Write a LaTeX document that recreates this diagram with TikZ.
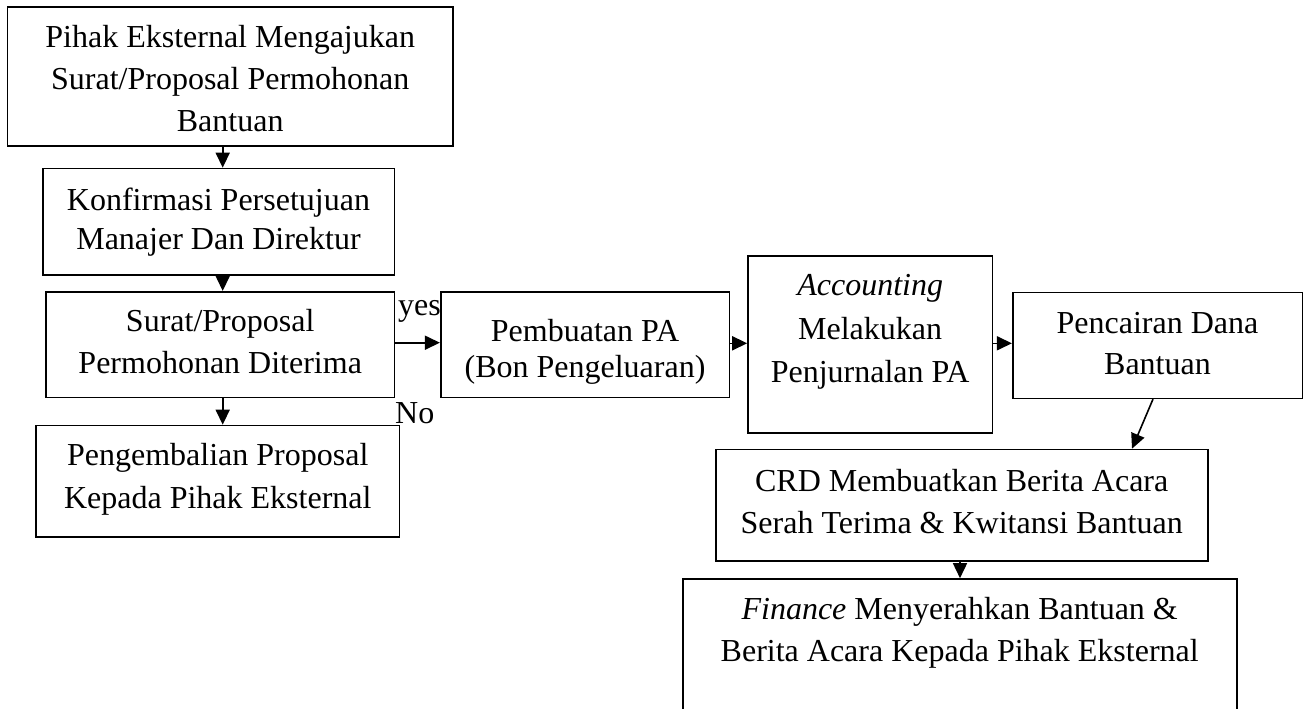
\documentclass[tikz,border=0pt]{standalone}
\usepackage{fontspec}
\setmainfont{Liberation Serif}
\usetikzlibrary{arrows.meta}
\begin{document}
\begin{tikzpicture}[x=1pt,y=-1pt,
  box/.style={draw, line width=1.6pt, rectangle, inner sep=0pt},
  txt/.style={anchor=base, inner sep=0pt, font=\fontsize{32}{38}\selectfont},
  flow/.style={line width=1.6pt, -{Triangle[length=15pt,width=14pt]}}]
\useasboundingbox (0,0) rectangle (1307,709);
\clip (0,0) rectangle (1307,709);

% boxes
\node[box, minimum width=445.7pt, minimum height=139pt]   (b1) at (230.2,76.5) {};
\node[box, minimum width=351.6pt, minimum height=106.5pt] (b2) at (218.5,221.75) {};
\node[box, minimum width=348.3pt, minimum height=105.6pt] (b3) at (220.2,344.5) {};
\node[box, minimum width=363.5pt, minimum height=111.2pt] (b4) at (217.75,481.1) {};
\node[box, minimum width=288.6pt, minimum height=105.5pt] (b5) at (585,344.75) {};
\node[box, minimum width=244.3pt, minimum height=176.7pt] (b6) at (870.15,344.35) {};
\node[box, minimum width=289.6pt, minimum height=106pt]   (b7) at (1157.5,345.3) {};
\node[box, minimum width=492pt,   minimum height=111.2pt] (b8) at (961.7,505.1) {};
\node[box, minimum width=554pt,   minimum height=161pt]   (b9) at (959.7,659.5) {};

% box texts
\node[txt] (t1a) at (230.2,47.7)  {Pihak Eksternal Mengajukan};
\node[txt] (t1b) at (230.2,89.3)  {Surat/Proposal Permohonan};
\node[txt] (t1c) at (230.2,131)   {Bantuan};
\node[txt] (t2a) at (218.5,210)   {Konfirmasi Persetujuan};
\node[txt] (t2b) at (218.5,249)   {Manajer Dan Direktur};
\node[txt] (t3a) at (220.2,331.7) {Surat/Proposal};
\node[txt] (t3b) at (220.2,373)   {Permohonan Diterima};
\node[txt] (t4a) at (217.75,465)  {Pengembalian Proposal};
\node[txt] (t4b) at (217.75,508)  {Kepada Pihak Eksternal};
\node[txt] (t5a) at (585,341)     {Pembuatan PA};
\node[txt] (t5b) at (585,377.5)   {(Bon Pengeluaran)};
\node[txt] (t6a) at (870.15,295)  {\itshape Accounting};
\node[txt] (t6b) at (870.15,339)  {Melakukan};
\node[txt] (t6c) at (870.15,382)  {Penjurnalan PA};
\node[txt] (t7a) at (1157.5,333.3){Pencairan Dana};
\node[txt] (t7b) at (1157.5,374)  {Bantuan};
\node[txt] (t8a) at (961.7,491)   {CRD Membuatkan Berita Acara};
\node[txt] (t8b) at (961.7,533)   {Serah Terima \& Kwitansi Bantuan};
\node[txt] (t9a) at (959.7,619)   {\textit{Finance} Menyerahkan Bantuan \&};
\node[txt] (t9b) at (959.7,661)   {Berita Acara Kepada Pihak Eksternal};

% branch labels
\node[txt, anchor=base west] (yes) at (398,315) {yes};
\node[txt, anchor=base west] (no)  at (395,423) {No};

% connector guide points
\coordinate (xa) at (222.7,0);
\coordinate (ya) at (0,342.7);
\coordinate (yb) at (0,343.3);
\coordinate (s7) at (1153,0);
\coordinate (e7) at (1132,0);
\coordinate (xb) at (960,0);

% connectors
\draw[flow] (b1.south -| xa) -- (b2.north -| xa);
\draw[flow] (b2.south -| xa) -- (b3.north -| xa);
\draw[flow] (b3.south -| xa) -- (b4.north -| xa);
\draw[flow] (b3.east |- ya) -- (b5.west |- ya);
\draw[flow] (b5.east |- yb) -- (b6.west |- yb);
\draw[flow] (b6.east |- yb) -- (b7.west |- yb);
\draw[flow] (b7.south -| s7) -- (b8.north -| e7);
\draw[flow] (b8.south -| xb) -- (b9.north -| xb);
\end{tikzpicture}
\end{document}
